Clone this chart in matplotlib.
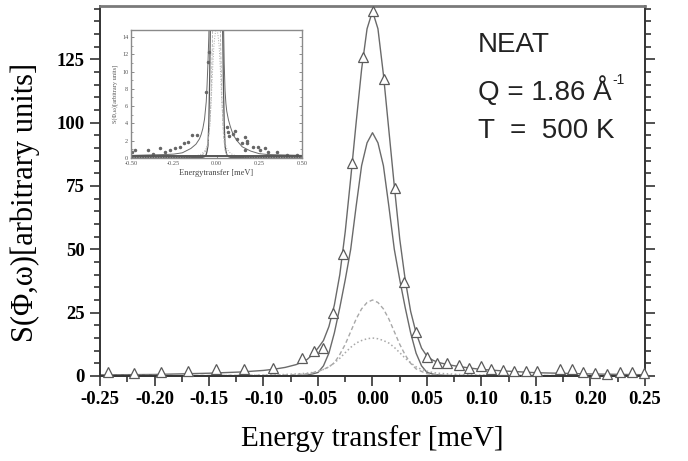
# NEAT quasielastic spectrum, Q = 1.86 1/A, T = 500 K

import numpy as np
import matplotlib
matplotlib.use("Agg")
import matplotlib.pyplot as plt
from matplotlib.ticker import MultipleLocator

# measured points (triangles)
x_pts = [-0.243, -0.219, -0.194, -0.169, -0.144, -0.118, -0.091, -0.065, -0.054,
         -0.045, -0.0365, -0.0273, -0.0185, -0.0084, 0.0, 0.0106, 0.0206, 0.0289,
         0.0396, 0.0497, 0.0589, 0.0686, 0.079, 0.0885, 0.0993, 0.109, 0.120,
         0.130, 0.141, 0.151, 0.172, 0.183, 0.193, 0.204, 0.215, 0.227, 0.238, 0.249]
y_pts = [1.6, 1.3, 1.6, 2.0, 2.6, 2.6, 3.0, 7.2, 9.9,
         11.2, 25.0, 48.0, 84.0, 126.0, 144.0, 117.0, 74.0, 37.0,
         17.5, 7.4, 5.3, 5.0, 4.3, 3.0, 3.9, 2.9, 2.4,
         2.0, 2.0, 2.0, 2.9, 2.6, 1.6, 1.0, 0.9, 1.6, 1.4, 1.2]

x_fit = [-0.5, -0.4, -0.3, -0.25, -0.2, -0.15, -0.12, -0.1, -0.09, -0.08, -0.07,
         -0.06, -0.055, -0.05, -0.045, -0.04, -0.035, -0.03, -0.025, -0.02, -0.015,
         -0.01, -0.005, 0.0, 0.005, 0.01, 0.015, 0.02, 0.025, 0.03, 0.035, 0.04,
         0.045, 0.05, 0.055, 0.06, 0.07, 0.08, 0.09, 0.1, 0.12, 0.15, 0.2, 0.25,
         0.3, 0.4, 0.5]
total = [0.3, 0.35, 0.4, 0.45, 0.6, 1.1, 1.6, 2.2, 2.7, 3.4, 4.5,
         6.5, 8.5, 11.0, 14.0, 19.5, 28.0, 40.0, 57.0, 78.0, 100.0,
         121.0, 137.0, 144.0, 137.0, 119.0, 97.0, 75.0, 54.0, 38.0, 25.5, 17.0,
         11.0, 7.8, 6.3, 5.4, 4.4, 3.7, 3.1, 2.6, 2.0, 1.3, 0.8, 0.5,
         0.4, 0.35, 0.3]
narrow = [0.05, 0.05, 0.05, 0.05, 0.05, 0.05, 0.05, 0.05, 0.05, 0.08, 0.15,
          0.4, 0.8, 1.4, 4.0, 9.0, 17.0, 27.0, 38.0, 50.0, 67.0,
          83.0, 92.0, 96.0, 92.0, 83.0, 67.0, 50.0, 38.0, 27.0, 17.0, 9.0,
          4.0, 1.4, 0.8, 0.4, 0.15, 0.08, 0.05, 0.05, 0.05, 0.05, 0.05, 0.05,
          0.05, 0.05, 0.05]
dashed = [0.2, 0.2, 0.2, 0.2, 0.2, 0.25, 0.25, 0.3, 0.3, 0.4, 0.6,
          0.9, 1.3, 1.8, 2.6, 3.6, 5.2, 8.5, 12.5, 17.5, 22.5,
          26.5, 29.0, 30.0, 29.0, 26.5, 22.5, 17.5, 12.5, 8.3, 5.0, 2.8,
          1.8, 0.9, 0.6, 0.4, 0.3, 0.3, 0.25, 0.25, 0.2, 0.2, 0.2, 0.2,
          0.2, 0.2, 0.2]
dotted = [0.05, 0.05, 0.07, 0.08, 0.1, 0.15, 0.25, 0.35, 0.45, 0.6, 0.8,
          1.1, 1.4, 1.9, 2.6, 3.6, 5.2, 7.0, 9.2, 11.3, 13.0,
          14.0, 14.7, 15.0, 14.7, 14.0, 13.0, 11.3, 9.2, 7.0, 5.2, 3.6,
          2.6, 1.9, 1.4, 1.1, 0.8, 0.6, 0.45, 0.35, 0.25, 0.15, 0.1, 0.08,
          0.07, 0.05, 0.05]

# inset data (wide energy window)
x_ins = [-0.496, -0.477, -0.40, -0.373, -0.33, -0.30, -0.27, -0.243, -0.213, -0.19,
         -0.165, -0.145, -0.112, -0.061, -0.048, -0.042, 0.06, 0.069, 0.075, 0.098,
         0.107, 0.118, 0.147, 0.167, 0.167, 0.177, 0.177, 0.215, 0.245, 0.254,
         0.284, 0.303, 0.352, 0.41, 0.47]
y_ins = [0.7, 0.9, 0.9, 0.5, 1.1, 0.7, 0.9, 1.2, 1.3, 1.7,
         1.9, 2.7, 2.7, 7.6, 11.1, 12.2, 3.6, 3.0, 2.6, 2.8,
         3.1, 2.2, 1.7, 0.9, 2.4, 2.0, 1.7, 1.3, 1.3, 0.9,
         1.1, 0.7, 0.7, 0.3, 0.3]

plt.rcParams["font.family"] = ["Liberation Serif", "DejaVu Serif"]

line_c = "#6a6a6a"

fig = plt.figure(figsize=(6.88, 4.61), dpi=100)
ax = fig.add_axes([100 / 688, 1 - 376 / 461, 545 / 688, 370 / 461])

ax.plot(x_fit, total, "-", color=line_c, lw=1.0)
ax.plot(x_fit, narrow, "-", color=line_c, lw=1.0)
ax.plot(x_fit, dashed, "--", color="#a8a8a8", lw=1.0, dashes=(3, 2))
ax.plot(x_fit, dotted, ":", color="#a8a8a8", lw=1.1)
ax.plot(x_pts, y_pts, "^", mfc="white", mec="#5a5a5a", ms=7.5, mew=0.9,
        ls="none", clip_on=False, zorder=5)

ax.set_xlim(-0.25, 0.25)
ax.set_ylim(0, 146)
ax.xaxis.set_minor_locator(MultipleLocator(0.025))
ax.yaxis.set_major_locator(MultipleLocator(25))
ax.yaxis.set_minor_locator(MultipleLocator(5))
ax.set_xticks(np.arange(-0.25, 0.251, 0.05))
ax.set_xticklabels(["-0.25", "-0.20", "-0.15", "-0.10", "-0.05", "0.00",
                    "0.05", "0.10", "0.15", "0.20", "0.25"])
ax.tick_params(which="both", direction="out", right=True, top=False,
               labelright=False, width=1.2, color="#333333")
ax.tick_params(which="major", length=7, labelsize=13.5, pad=4)
ax.tick_params(which="minor", length=4)
for lab in ax.get_xticklabels() + ax.get_yticklabels():
    lab.set_fontweight("bold")
for side in ["left", "bottom", "right"]:
    ax.spines[side].set_color("#333333")
    ax.spines[side].set_linewidth(1.4)
ax.spines["top"].set_color("#7a7a7a")
ax.spines["top"].set_linewidth(2.0)

ax.set_xlabel("Energy transfer [meV]", fontsize=21, labelpad=12)
ax.set_ylabel("S(\u03a6,\u03c9)[arbitrary units]", fontsize=22)
ax.yaxis.set_label_coords(-0.11, 0.47)

txt_kw = dict(fontsize=20, family="Liberation Sans", color="#222222",
              transform=fig.transFigure, va="baseline")
fig.text(478 / 688, 1 - 52 / 461, "NEAT", **txt_kw)
q_txt = fig.text(478 / 688, 1 - 100 / 461, "Q = 1.86 \u00c5", **txt_kw)
fig.text(478 / 688, 1 - 138 / 461, "T  =  500 K", **txt_kw)
fig.canvas.draw()
bb = q_txt.get_window_extent(fig.canvas.get_renderer())
fig.text(bb.x1 / 688 + 0.001, 1 - 84 / 461, "-1", fontsize=10,
         family="Liberation Sans", color="#222222", va="baseline")

# inset
ins = fig.add_axes([131 / 688, 1 - 158 / 461, 171 / 688, 128 / 461])
ins.plot(x_fit, total, "-", color=line_c, lw=0.7)
ins.plot(x_fit, narrow, "-", color="#555555", lw=0.9)
ins.plot(x_fit, dotted, ":", color="#a8a8a8", lw=0.7)
ins.plot(x_fit, dashed, "--", color="#b0b0b0", lw=0.6)
ins.plot(x_ins, y_ins, "o", color="#666666", ms=1.5, ls="none")
ins.axhline(0.25, color="#555555", lw=1.4)
ins.set_xlim(-0.5, 0.5)
ins.set_ylim(0, 14.8)
ins.set_xticks([-0.5, -0.25, 0.0, 0.25, 0.5])
ins.set_xticklabels(["-0.50", "-0.25", "0.00", "0.25", "0.50"])
ins.set_yticks(range(0, 15, 2))
ins.xaxis.set_minor_locator(MultipleLocator(0.125))
ins.yaxis.set_minor_locator(MultipleLocator(1))
ins.tick_params(which="both", direction="in", right=True, top=False,
                labelsize=4.5, pad=2, color="#777777", labelcolor="#555555")
ins.tick_params(which="major", length=2.5, width=0.6)
ins.tick_params(which="minor", length=1.5, width=0.5)
for s in ins.spines.values():
    s.set_color("#8a8a8a")
    s.set_linewidth(1.0)
ins.set_xlabel("Energytransfer [meV]", fontsize=6, labelpad=2, color="#444444")
ins.set_ylabel("S(\u03a6,\u03c9)[arbitrary units]", fontsize=4.5, labelpad=3,
               color="#555555")

fig.savefig("out.png", dpi=100)
